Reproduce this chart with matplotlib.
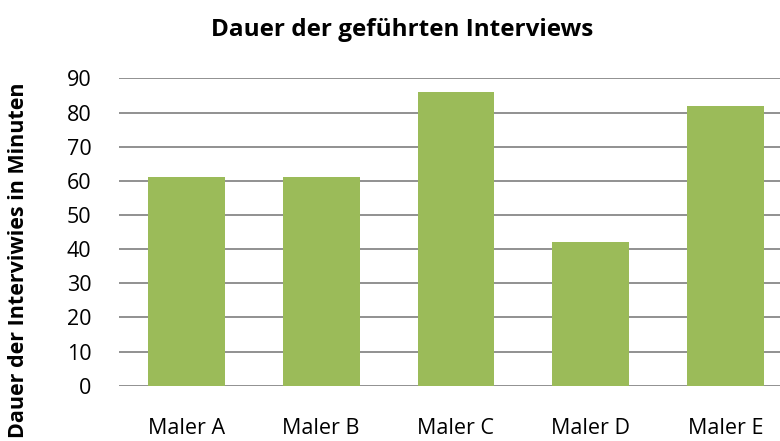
import matplotlib.pyplot as plt

maler = ["Maler A", "Maler B", "Maler C", "Maler D", "Maler E"]
dauer = [61, 61, 86, 42, 82]
yticks = list(range(0, 100, 10))

plt.rcParams["font.family"] = ["Open Sans", "DejaVu Sans"]

fig = plt.figure(figsize=(7.8, 4.41), dpi=100)
ax = fig.add_axes([0.1526, 0.1254, 0.8638, 0.6966])

ax.bar(range(len(maler)), dauer, width=0.57, color="#9BBB59", zorder=3)
ax.set_xlim(-0.5, 4.5)
ax.set_ylim(0, 90)
ax.set_yticks(yticks)
ax.set_xticks(range(len(maler)))
ax.set_xticklabels(maler, fontsize=15.5)
ax.tick_params(axis="y", labelsize=15.5, length=0, pad=20)
ax.tick_params(axis="x", length=0, pad=23)
ax.grid(axis="y", color="#888888", linewidth=1.3, zorder=0)
for s in ax.spines.values():
    s.set_visible(False)

fig.text(0.515, 0.932, "Dauer der geführten Interviews", ha="center", va="center",
         fontsize=17.5, fontweight="bold")
fig.text(0.024, 0.41, "Dauer der Interviwies in Minuten", ha="center", va="center",
         rotation=90, fontsize=15.5, fontweight="bold")

fig.savefig("out.png", dpi=100)
